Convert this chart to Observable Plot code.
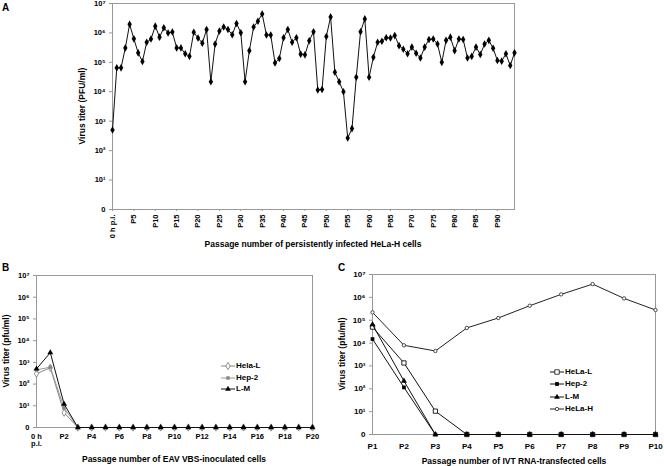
<!DOCTYPE html>
<html>
<head>
<meta charset="utf-8">
<script src="https://cdn.jsdelivr.net/npm/d3@7"></script>
<script src="https://cdn.jsdelivr.net/npm/@observablehq/plot@0.6"></script>
<style>
  body { margin: 0; background: #fff; }
  #wrap { position: relative; width: 664px; height: 466px; overflow: hidden; background: #fff;
          font-family: "Liberation Sans Narrow", "Arial Narrow", "Liberation Sans", Arial, sans-serif;
          font-weight: bold; color: #000; }
  .letter { position: absolute; font-size: 10px; font-family: "Liberation Sans", Arial, sans-serif; font-weight: bold; line-height: 1; }
  .xt { position: absolute; font-size: 8.5px; white-space: nowrap; transform: translate(-50%, -50%); line-height: 1; }
  .yt { position: absolute; font-size: 8.5px; white-space: nowrap; transform: translate(-50%, -50%) rotate(-90deg); line-height: 1; }
  .legend { position: absolute; font-size: 8px; line-height: 1; }
  .legend .row { display: flex; align-items: center; position: absolute; left: 0; white-space: nowrap; }
  .legend svg { display: block; margin-right: 1px; }
</style>
</head>
<body>
<div id="wrap"></div>
<script>
// ---------- data ----------
// Panel A: persistently infected HeLa-H cells, passage 0 (0 h p.i.) .. P94
const titerA = [
  500, 65000, 65000, 310000, 1960000, 630000, 210000, 107000, 480000, 620000,
  1700000, 720000, 1500000, 1000000, 1070000, 310000, 310000, 196000, 160000, 1050000,
  670000, 450000, 1300000, 22000, 420000, 1170000, 1600000, 1300000, 870000, 2100000,
  1020000, 22000, 250000, 1600000, 2500000, 4400000, 850000, 850000, 96000, 135000,
  690000, 1300000, 480000, 690000, 190000, 180000, 540000, 1100000, 11500, 12000,
  760000, 3500000, 46000, 22000, 10000, 270, 560, 31000, 1100000, 3000000,
  31000, 150000, 480000, 520000, 690000, 670000, 810000, 370000, 280000, 196000,
  330000, 205000, 140000, 330000, 600000, 620000, 420000, 100000, 560000, 720000,
  250000, 620000, 600000, 140000, 160000, 330000, 185000, 420000, 560000, 300000,
  115000, 110000, 196000, 78000, 210000
];
const ticksA = [0, 5, 10, 15, 20, 25, 30, 35, 40, 45, 50, 55, 60, 65, 70, 75, 80, 85, 90];
const tickLabelsA = ["0 h p.i.", "P5", "P10", "P15", "P20", "P25", "P30", "P35", "P40", "P45",
                     "P50", "P55", "P60", "P65", "P70", "P75", "P80", "P85", "P90"];

// Panel B: EAV VBS-inoculated cells, 0 h p.i. .. P20
const helaLB = [300, 560, 4.8, 0, 0, 0, 0, 0, 0, 0, 0, 0, 0, 0, 0, 0, 0, 0, 0, 0, 0];
const hep2B  = [450, 600, 8,   0, 0, 0, 0, 0, 0, 0, 0, 0, 0, 0, 0, 0, 0, 0, 0, 0, 0];
const lmB    = [500, 2800, 12, 0, 0, 0, 0, 0, 0, 0, 0, 0, 0, 0, 0, 0, 0, 0, 0, 0, 0];
const ticksB = [0, 2, 4, 6, 8, 10, 12, 14, 16, 18, 20];
const tickLabelsB = ["0 h\np.i.", "P2", "P4", "P6", "P8", "P10", "P12", "P14", "P16", "P18", "P20"];

// Panel C: IVT RNA-transfected cells, P1 .. P10
const helaLC = [50000, 1350, 10.5, 0, 0, 0, 0, 0, 0, 0];
const hep2C  = [15000, 115, 0, 0, 0, 0, 0, 0, 0, 0];
const lmC    = [65000, 220, 0, 0, 0, 0, 0, 0, 0, 0];
const helaHC = [220000, 8000, 4500, 46000, 125000, 430000, 1350000, 3800000, 900000, 280000];
const ticksC = [1, 2, 3, 4, 5, 6, 7, 8, 9, 10];
const tickLabelsC = ["P1", "P2", "P3", "P4", "P5", "P6", "P7", "P8", "P9", "P10"];

// shared log y axis
const yTickValues = [1, 10, 100, 1e3, 1e4, 1e5, 1e6, 1e7];
const yTickLabels = ["0", "10¹", "10²", "10³", "10⁴", "10⁵", "10⁶", "10⁷"];

// ---------- helpers ----------
const FONT = '"Liberation Sans Narrow", "Arial Narrow", "Liberation Sans", Arial, sans-serif';
const floorZero = v => (v === 0 ? 1 : v); // a titer of 0 sits on the "0" (10^0) baseline
const series = (vals, x0) => vals.map((v, i) => ({p: x0 + i, v: floorZero(v)}));
const fmtFrom = (ticks, labels) => d => labels[ticks.indexOf(d)];
const wrap = document.getElementById("wrap");

function place(svg, left, top) {
  svg.style.position = "absolute";
  svg.style.left = left + "px";
  svg.style.top = top + "px";
  wrap.appendChild(svg);
}
function addDiv(cls, text, x, y) {
  const d = document.createElement("div");
  d.className = cls;
  d.textContent = text;
  d.style.left = x + "px";
  d.style.top = y + "px";
  wrap.appendChild(d);
}
function yAxis() {
  return Plot.axisY({ticks: yTickValues, tickFormat: fmtFrom(yTickValues, yTickLabels),
                     tickSize: 3, tickPadding: 4, stroke: "#999", label: null});
}
const baseStyle = {fontFamily: FONT, fontSize: "7.5px", fontWeight: "bold", color: "#000",
                   background: "transparent", overflow: "visible"};

// ---------- Panel A ----------
const dataA = series(titerA, 0);
const plotA = Plot.plot({
  width: 530, height: 250,
  marginLeft: 112, marginRight: 16, marginTop: 3, marginBottom: 41,
  style: baseStyle,
  x: {domain: [0, 94]},
  y: {type: "log", domain: [1, 1e7]},
  marks: [
    Plot.frame({stroke: "#999"}),
    yAxis(),
    Plot.axisX({ticks: ticksA, tickFormat: fmtFrom(ticksA, tickLabelsA), tickRotate: -90,
                tickSize: 2, tickPadding: 3, stroke: "#999", label: null}),
    Plot.line(dataA, {x: "p", y: "v", stroke: "#111", strokeWidth: 1}),
    Plot.dot(dataA, {x: "p", y: "v", symbol: "diamond", r: 2.3, fill: "#000", stroke: "none"})
  ]
});
place(plotA, 0, 0);

// ---------- Panel B ----------
const plotB = Plot.plot({
  width: 330, height: 196,
  marginLeft: 36, marginRight: 18, marginTop: 5, marginBottom: 39,
  style: baseStyle,
  x: {domain: [0, 20]},
  y: {type: "log", domain: [1, 1e7]},
  marks: [
    Plot.frame({stroke: "#999"}),
    yAxis(),
    Plot.axisX({ticks: ticksB, tickFormat: fmtFrom(ticksB, tickLabelsB), tickSize: 0,
                tickPadding: 6, label: null, textAnchor: "middle"}),
    Plot.line(series(helaLB, 0), {x: "p", y: "v", stroke: "#888", strokeWidth: 1}),
    Plot.dot(series(helaLB, 0), {x: "p", y: "v", symbol: "diamond", r: 2.2, fill: "#fff", stroke: "#777", strokeWidth: 0.8}),
    Plot.line(series(hep2B, 0), {x: "p", y: "v", stroke: "#999", strokeWidth: 1}),
    Plot.dot(series(hep2B, 0), {x: "p", y: "v", symbol: "square", r: 1.9, fill: "#888", stroke: "none"}),
    Plot.line(series(lmB, 0), {x: "p", y: "v", stroke: "#111", strokeWidth: 1}),
    Plot.dot(series(lmB, 0), {x: "p", y: "v", symbol: "triangle", r: 2.2, fill: "#000", stroke: "none"})
  ]
});
place(plotB, 0, 270);

// ---------- Panel C ----------
const plotC = Plot.plot({
  width: 334, height: 196,
  marginLeft: 42, marginRight: 9, marginTop: 4, marginBottom: 32,
  style: {...baseStyle, fontSize: "8px"},
  x: {domain: [1, 10]},
  y: {type: "log", domain: [1, 1e7]},
  marks: [
    Plot.frame({stroke: "#999"}),
    yAxis(),
    Plot.axisX({ticks: ticksC, tickFormat: fmtFrom(ticksC, tickLabelsC), tickSize: 0,
                tickPadding: 9, label: null}),
    Plot.line(series(helaHC, 1), {x: "p", y: "v", stroke: "#222", strokeWidth: 1}),
    Plot.dot(series(helaHC, 1), {x: "p", y: "v", symbol: "circle", r: 1.7, fill: "#fff", stroke: "#222", strokeWidth: 0.8}),
    Plot.line(series(helaLC, 1), {x: "p", y: "v", stroke: "#111", strokeWidth: 1}),
    Plot.dot(series(helaLC, 1), {x: "p", y: "v", symbol: "square", r: 2.4, fill: "#fff", stroke: "#111", strokeWidth: 0.9}),
    Plot.line(series(lmC, 1), {x: "p", y: "v", stroke: "#111", strokeWidth: 1}),
    Plot.dot(series(lmC, 1), {x: "p", y: "v", symbol: "triangle", r: 2.2, fill: "#000", stroke: "none"}),
    Plot.line(series(hep2C, 1), {x: "p", y: "v", stroke: "#111", strokeWidth: 1}),
    Plot.dot(series(hep2C, 1), {x: "p", y: "v", symbol: "square", r: 2.1, fill: "#000", stroke: "none"})
  ]
});
place(plotC, 330, 270);

// ---------- titles & letters ----------
addDiv("letter", "A", 2, 3);
addDiv("letter", "B", 2, 263);
addDiv("letter", "C", 338, 263);
addDiv("xt", "Passage number of persistently infected HeLa-H cells", 313, 244);
addDiv("xt", "Passage number of EAV VBS-inoculated cells", 174, 459);
addDiv("xt", "Passage number of IVT RNA-transfected cells", 514, 461);
addDiv("yt", "Virus titer (PFU/ml)", 82, 106);
addDiv("yt", "Virus titer (pfu/ml)", 6, 351);
addDiv("yt", "Virus titer (pfu/ml)", 342, 354);

// ---------- legends ----------
const symbolMap = {diamond: d3.symbolDiamond, square: d3.symbolSquare, triangle: d3.symbolTriangle, circle: d3.symbolCircle};
function legend(items, left, top, gap) {
  const box = document.createElement("div");
  box.className = "legend";
  box.style.left = left + "px";
  box.style.top = top + "px";
  items.forEach((it, i) => {
    const row = document.createElement("div");
    row.className = "row";
    row.style.top = (i * gap) + "px";
    const s = d3.create("svg").attr("width", 14).attr("height", 8);
    s.append("line").attr("x1", 0).attr("x2", 14).attr("y1", 4).attr("y2", 4)
      .attr("stroke", it.line).attr("stroke-width", 1);
    s.append("path").attr("d", d3.symbol(symbolMap[it.symbol], it.size)())
      .attr("transform", "translate(7,4)")
      .attr("fill", it.fill).attr("stroke", it.stroke).attr("stroke-width", 0.8);
    row.appendChild(s.node());
    const t = document.createElement("span");
    t.textContent = it.label;
    row.appendChild(t);
    box.appendChild(row);
  });
  wrap.appendChild(box);
}
const legendLabelsB = ["Hela-L", "Hep-2", "L-M"];
legend([
  {label: legendLabelsB[0], line: "#888", symbol: "diamond", size: 16, fill: "#fff", stroke: "#777"},
  {label: legendLabelsB[1], line: "#999", symbol: "square", size: 12, fill: "#888", stroke: "none"},
  {label: legendLabelsB[2], line: "#111", symbol: "triangle", size: 14, fill: "#000", stroke: "none"}
], 221, 362, 11.5);
const legendLabelsC = ["HeLa-L", "Hep-2", "L-M", "HeLa-H"];
legend([
  {label: legendLabelsC[0], line: "#111", symbol: "square", size: 20, fill: "#fff", stroke: "#111"},
  {label: legendLabelsC[1], line: "#111", symbol: "square", size: 14, fill: "#000", stroke: "none"},
  {label: legendLabelsC[2], line: "#111", symbol: "triangle", size: 14, fill: "#000", stroke: "none"},
  {label: legendLabelsC[3], line: "#222", symbol: "circle", size: 9, fill: "#fff", stroke: "#222"}
], 550, 368, 12.3);
</script>
</body>
</html>
